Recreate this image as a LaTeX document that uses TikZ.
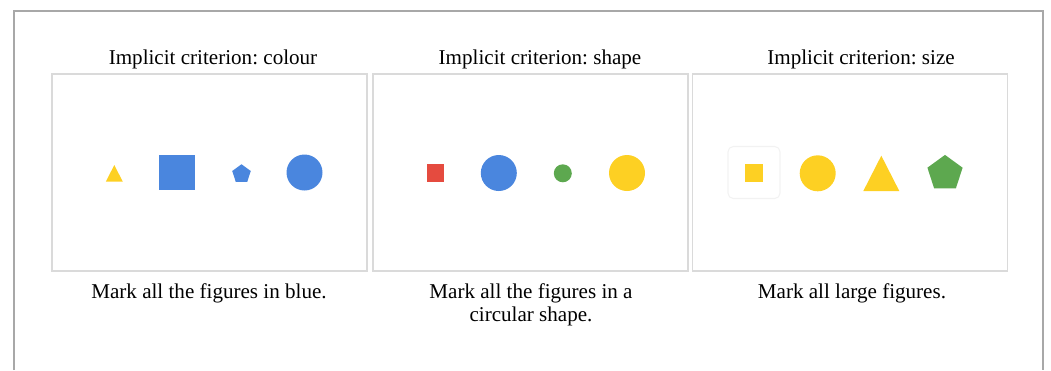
\documentclass[tikz,border=0pt]{standalone}
\usepackage{fontspec}
\setmainfont{Liberation Serif}
\usepackage{xcolor}
\usepackage{tikz}
\usetikzlibrary{shapes.geometric}
\definecolor{figblue}{RGB}{74,134,222}
\definecolor{figyellow}{RGB}{253,208,35}
\definecolor{figred}{RGB}{229,75,63}
\definecolor{figgreen}{RGB}{93,168,79}
\definecolor{framegray}{RGB}{168,168,168}
\definecolor{panelgray}{RGB}{218,218,218}
\frenchspacing

\begin{document}
\begin{tikzpicture}[x=0.02cm, y=-0.02cm,
  every node/.style={font=\fontsize{12}{13.6}\selectfont, align=center},
  panel/.style={draw=panelgray, line width=0.8pt, minimum width=6.3cm, minimum height=3.94cm, inner sep=0pt},
  fig/.style={inner sep=0pt, outer sep=0pt, draw=none}]
  \useasboundingbox (0,0) rectangle (1051,370);
  \draw[framegray, line width=1.4pt] (14,370) -- (14,11) -- (1043,11) -- (1043,370);

  % the three panels
  \node[panel] (colour) at (209.5,172.5) {};
  \node[panel] (shape) at (530.5,172.5) {};
  \node[panel] (size) at (850,172.5) {};

  \node[anchor=base] (colourtitle) at (213,64) {Implicit criterion: colour};
  \node[anchor=base] (shapetitle) at (540,64) {Implicit criterion: shape};
  \node[anchor=base] (sizetitle) at (861,64) {Implicit criterion: size};

  % colour
  \fill[figyellow] (105.8,181.7) -- (114.3,165) -- (122.8,181.7) -- cycle;
  \node[fig, fill=figblue, minimum width=0.71cm, minimum height=0.7cm] (bsq) at (177,172.5) {};
  \node[fig, fill=figblue, regular polygon, regular polygon sides=5, minimum size=0.39cm] (bpent) at (241.5,174) {};
  \node[fig, fill=figblue, circle, minimum size=0.72cm] (bcirc) at (304.5,172.5) {};

  % shape
  \node[fig, fill=figred, minimum size=0.35cm] (rsq) at (435.3,173) {};
  \node[fig, fill=figblue, circle, minimum size=0.72cm] (bcirc2) at (498.8,173) {};
  \node[fig, fill=figgreen, circle, minimum size=0.36cm] (gcirc) at (562.8,173.3) {};
  \node[fig, fill=figyellow, circle, minimum size=0.72cm] (ycirc) at (627,173) {};

  % size
  \node[draw=black!5, rounded corners=3pt, line width=0.6pt, minimum size=1.04cm, inner sep=0pt] (smallbox) at (754,172.5) {};
  \node[fig, fill=figyellow, minimum size=0.36cm] (ysq) at (754.2,173.3) {};
  \node[fig, fill=figyellow, circle, minimum size=0.72cm] (ycirc2) at (817.7,173.3) {};
  \fill[figyellow] (863.3,191) -- (881.3,155.7) -- (899.3,191) -- cycle;
  \node[fig, fill=figgreen, regular polygon, regular polygon sides=5, minimum size=0.74cm] (gpent) at (945,173.4) {};

  \node[anchor=north] (colourtask) at (209,277) {Mark all the figures in blue.};
  \node[anchor=north] (shapetask) at (531,277) {Mark all the figures in a\\ circular shape.};
  \node[anchor=north] (sizetask) at (852,277) {Mark all large figures.};
\end{tikzpicture}
\end{document}
